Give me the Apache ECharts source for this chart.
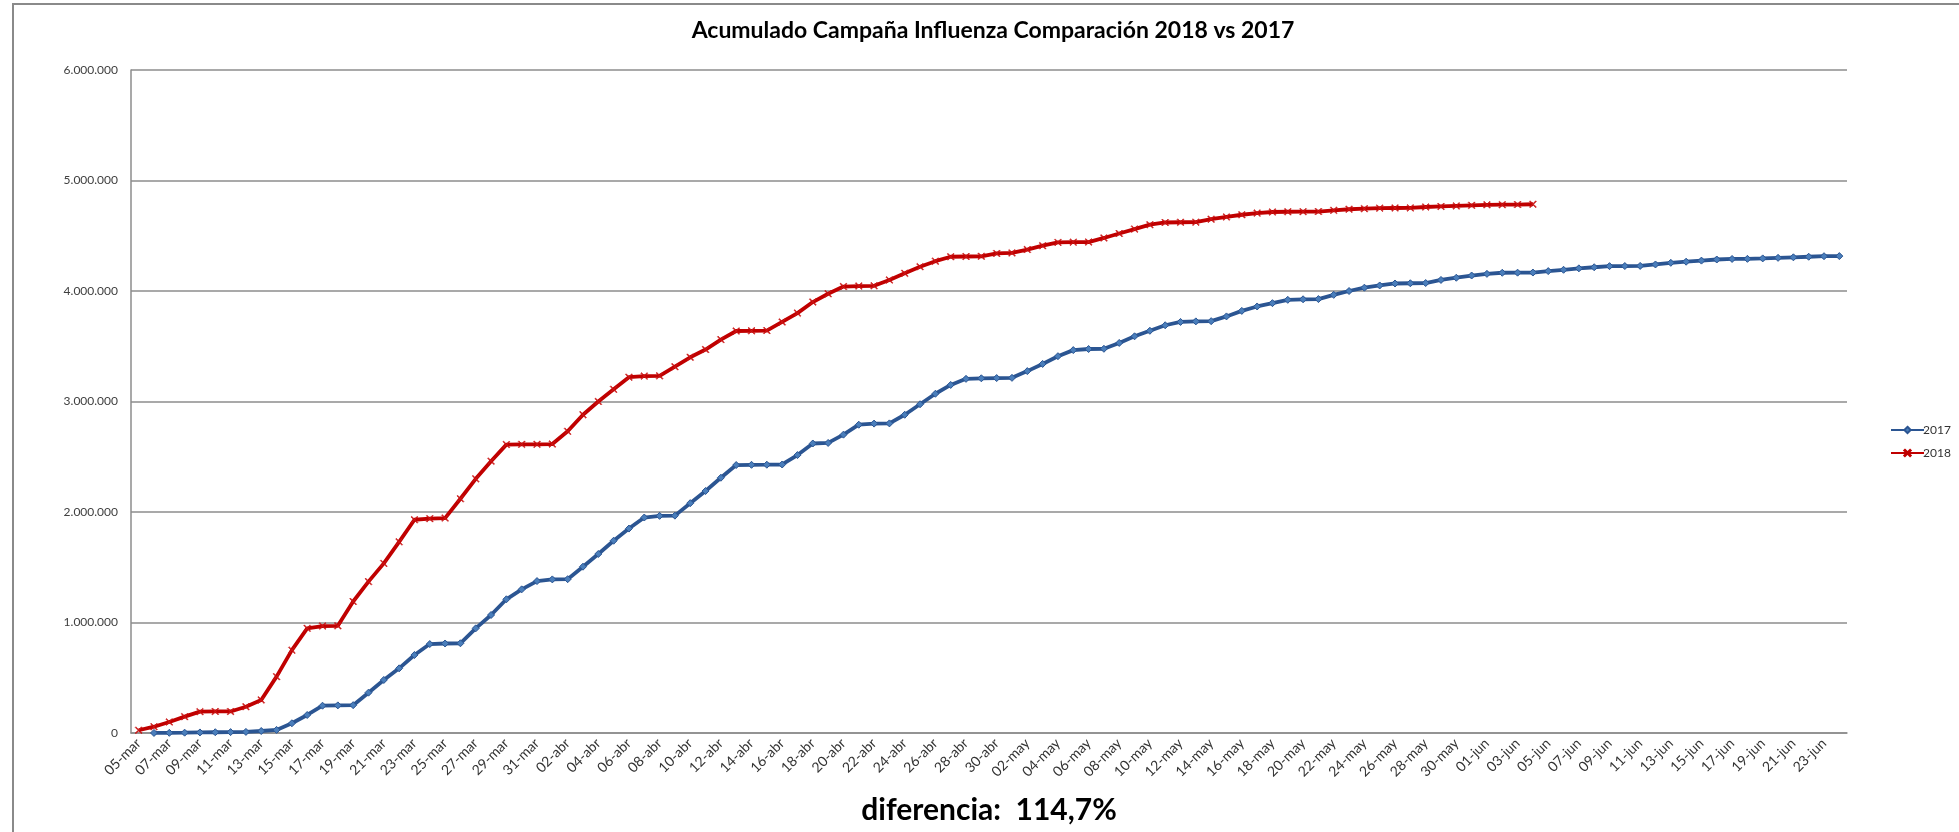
<!DOCTYPE html>
<html>
<head>
<meta charset="utf-8">
<title>Acumulado Campaña Influenza</title>
<script src="https://cdn.jsdelivr.net/npm/echarts@6/dist/echarts.min.js"></script>
<style>
  html, body { margin: 0; padding: 0; background: #fff; }
  #main { width: 1959px; height: 832px; }
</style>
</head>
<body>
<div id="main"></div>
<script>
// dias de la campaña (eje x)
const dias = [
  '05-mar','06-mar','07-mar','08-mar','09-mar','10-mar','11-mar','12-mar','13-mar','14-mar','15-mar','16-mar','17-mar','18-mar','19-mar','20-mar',
  '21-mar','22-mar','23-mar','24-mar','25-mar','26-mar','27-mar','28-mar','29-mar','30-mar','31-mar',
  '01-abr','02-abr','03-abr','04-abr','05-abr','06-abr','07-abr','08-abr','09-abr','10-abr','11-abr','12-abr','13-abr','14-abr','15-abr',
  '16-abr','17-abr','18-abr','19-abr','20-abr','21-abr','22-abr','23-abr','24-abr','25-abr','26-abr','27-abr','28-abr','29-abr','30-abr',
  '01-may','02-may','03-may','04-may','05-may','06-may','07-may','08-may','09-may','10-may','11-may','12-may','13-may','14-may','15-may',
  '16-may','17-may','18-may','19-may','20-may','21-may','22-may','23-may','24-may','25-may','26-may','27-may','28-may','29-may','30-may','31-may',
  '01-jun','02-jun','03-jun','04-jun','05-jun','06-jun','07-jun','08-jun','09-jun','10-jun','11-jun','12-jun','13-jun','14-jun','15-jun',
  '16-jun','17-jun','18-jun','19-jun','20-jun','21-jun','22-jun','23-jun','24-jun'
]

// acumulado 2017
const serie2017 = [
  null, 500, 1500, 3000, 5000, 7000, 8000, 10000, 18000, 28000,
  88000, 163000, 247000, 250000, 252000, 365000, 480000, 585000, 706000, 805000,
  810000, 812000, 947000, 1068000, 1210000, 1300000, 1375000, 1390000, 1392000, 1505000,
  1620000, 1740000, 1850000, 1950000, 1965000, 1967000, 2080000, 2190000, 2310000, 2425000,
  2427000, 2428000, 2430000, 2515000, 2620000, 2625000, 2700000, 2790000, 2800000, 2802000,
  2880000, 2975000, 3070000, 3150000, 3205000, 3210000, 3212000, 3214000, 3275000, 3340000,
  3410000, 3465000, 3475000, 3477000, 3530000, 3590000, 3640000, 3690000, 3720000, 3725000,
  3727000, 3770000, 3820000, 3860000, 3890000, 3920000, 3925000, 3927000, 3965000, 4000000,
  4030000, 4050000, 4068000, 4070000, 4072000, 4100000, 4120000, 4140000, 4155000, 4165000,
  4166000, 4167000, 4180000, 4192000, 4205000, 4215000, 4225000, 4226000, 4227000, 4240000,
  4255000, 4265000, 4275000, 4285000, 4290000, 4291000, 4295000, 4300000, 4305000, 4310000,
  4315000, 4316000
]

// acumulado 2018
const serie2018 = [
  25000, 57000, 100000, 148000, 193000, 195000, 195000, 238000, 299000, 510000,
  750000, 947000, 968000, 970000, 1190000, 1370000, 1535000, 1730000, 1930000, 1940000,
  1945000, 2120000, 2300000, 2460000, 2610000, 2612000, 2612000, 2615000, 2730000, 2880000,
  3000000, 3110000, 3220000, 3230000, 3232000, 3315000, 3400000, 3470000, 3560000, 3638000,
  3640000, 3642000, 3720000, 3800000, 3900000, 3975000, 4040000, 4045000, 4047000, 4100000,
  4160000, 4220000, 4270000, 4310000, 4312000, 4314000, 4340000, 4345000, 4375000, 4410000,
  4440000, 4442000, 4443000, 4480000, 4520000, 4560000, 4600000, 4620000, 4622000, 4623000,
  4650000, 4670000, 4690000, 4705000, 4715000, 4717000, 4718000, 4719000, 4730000, 4740000,
  4745000, 4750000, 4751000, 4752000, 4760000, 4765000, 4770000, 4775000, 4780000, 4781000,
  4782000, 4785000
]

const diferencia = 'diferencia:  114,7%'

const chart = echarts.init(document.getElementById('main'))

// formato con punto de miles: 6.000.000
function miles(v) {
  return String(v).replace(/\B(?=(\d{3})+(?!\d))/g, '.')
}

const option = {
  backgroundColor: '#fff',
  animation: false,
  textStyle: { fontFamily: 'Lato' },
  title: {
    text: 'Acumulado Campaña Influenza Comparación 2018 vs 2017',
    left: 988,
    top: 14,
    textAlign: 'center',
    textStyle: { fontFamily: 'Lato', fontSize: 23, fontWeight: 'bold', color: '#000' }
  },
  legend: {
    orient: 'vertical',
    left: 1885,
    top: 419,
    itemWidth: 33,
    itemHeight: 8,
    itemGap: 11,
    textStyle: { fontFamily: 'Lato', fontSize: 12, color: '#333', padding: [0, 0, 0, -6] },
    data: ['2017', '2018']
  },
  grid: {
    left: 131,
    right: 112,
    top: 70,
    bottom: 99,
    containLabel: false
  },
  xAxis: {
    type: 'category',
    boundaryGap: true,
    data: dias,
    axisTick: { show: false },
    axisLine: { lineStyle: { color: '#8c8c8c', width: 1.5 } },
    axisLabel: {
      interval: 1,
      rotate: 45,
      margin: 8,
      fontFamily: 'Lato',
      fontSize: 14,
      color: '#333'
    }
  },
  yAxis: {
    type: 'value',
    min: 0,
    max: 6000000,
    interval: 1000000,
    axisLine: { show: true, lineStyle: { color: '#8c8c8c', width: 1.5 } },
    axisTick: { show: false },
    axisLabel: {
      margin: 13,
      fontFamily: 'Lato',
      fontSize: 12,
      color: '#404040',
      formatter: miles
    },
    splitLine: { lineStyle: { color: '#8c8c8c', width: 1.5 } }
  },
  series: [
    {
      name: '2017',
      type: 'line',
      data: serie2017,
      symbol: 'diamond',
      symbolSize: 7,
      lineStyle: { color: '#2b5592', width: 3.8 },
      itemStyle: { color: '#4a7ebb', borderColor: '#2b5592', borderWidth: 1 }
    },
    {
      name: '2018',
      type: 'line',
      data: serie2018,
      symbol: 'path://M1 0L5 4L9 0L10 1L6 5L10 9L9 10L5 6L1 10L0 9L4 5L0 1Z',
      symbolSize: 7,
      lineStyle: { color: '#c00000', width: 3.8 },
      itemStyle: { color: '#d02020', borderColor: '#c00000', borderWidth: 0.5 }
    }
  ],
  graphic: [
    {
      type: 'rect',
      shape: { x: 13, y: 4, width: 1980, height: 860 },
      style: { fill: 'none', stroke: '#8a8a8a', lineWidth: 2 },
      silent: true
    },
    {
      type: 'text',
      x: 989,
      y: 810,
      style: {
        text: diferencia,
        font: 'bold 30px Lato',
        fill: '#000',
        textAlign: 'center',
        textVerticalAlign: 'middle'
      }
    }
  ]
}

chart.setOption(option)
</script>
</body>
</html>
